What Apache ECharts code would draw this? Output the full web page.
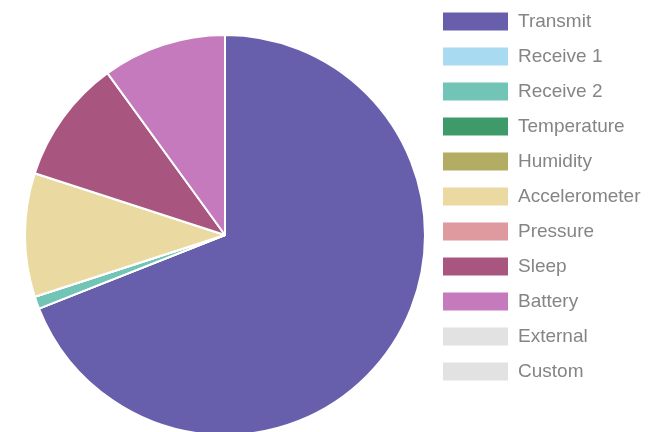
<!DOCTYPE html>
<html>
<head>
<meta charset="utf-8">
<script src="https://cdn.jsdelivr.net/npm/echarts@6/dist/echarts.min.js"></script>
<style>
  html, body { margin: 0; padding: 0; background: #fff; }
  #chart { width: 662px; height: 432px; }
</style>
</head>
<body>
<div id="chart"></div>
<script>
const categories = ['Transmit', 'Receive 1', 'Receive 2', 'Temperature', 'Humidity',
  'Accelerometer', 'Pressure', 'Sleep', 'Battery', 'External', 'Custom']
const values = [69, 0, 1, 0, 0, 10, 0, 10, 10, 0, 0]
const colors = ['#675fab', '#a8daf2', '#72c4b6', '#3f9a6a', '#b2ad63',
  '#ead9a0', '#de9a9e', '#a85680', '#c57abd', '#e2e2e2', '#e2e2e2']

const chart = echarts.init(document.getElementById('chart'))

// 组装饼图数据
const data = categories.map((name, i) => ({
  name: name,
  value: values[i],
  itemStyle: { color: colors[i] }
}))

const option = {
  animation: false,
  legend: {
    orient: 'vertical',
    left: 443,
    top: 12,
    padding: 0,
    itemWidth: 65,
    itemHeight: 18,
    itemGap: 16,
    icon: 'rect',
    data: categories,
    itemStyle: { borderWidth: 0 },
    textStyle: {
      fontFamily: 'Liberation Sans',
      fontSize: 19,
      color: '#858585',
      lineHeight: 18,
      height: 18,
      padding: [0, 0, 0, 5]
    }
  },
  series: [
    {
      type: 'pie',
      center: [225, 235],
      radius: 200,
      startAngle: 90,
      clockwise: true,
      label: { show: false },
      labelLine: { show: false },
      itemStyle: {
        borderColor: '#fff',
        borderWidth: 2
      },
      data: data
    }
  ]
}

chart.setOption(option)
</script>
</body>
</html>
